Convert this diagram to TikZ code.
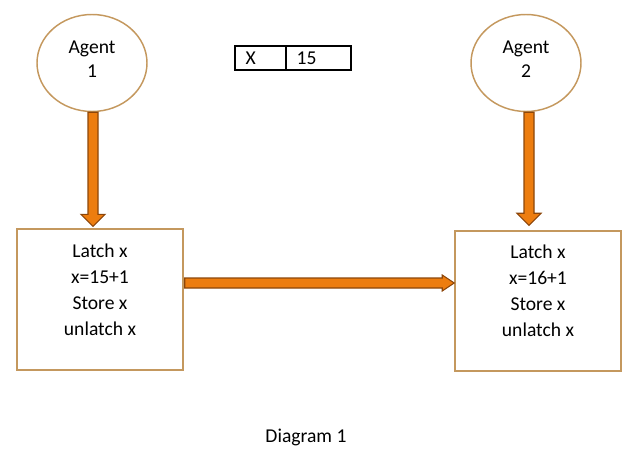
\documentclass[tikz,border=0pt]{standalone}
\usepackage{fontspec}
\setmainfont{Carlito}
\usetikzlibrary{shapes.geometric,calc}
\definecolor{tanline}{RGB}{196,152,94}
\definecolor{arrfill}{RGB}{237,125,15}
\definecolor{arrline}{RGB}{140,70,10}
\tikzset{
  agent/.style={ellipse, draw=tanline, line width=1.1pt, minimum width=82.5pt, minimum height=72.75pt, inner sep=0pt},
  agenttext/.style={align=center, inner sep=0pt, font={\fontsize{14.7}{18}\selectfont}},
  procbox/.style={rectangle, draw=tanline, line width=1.1pt, minimum width=124.5pt, minimum height=105.5pt, inner sep=0pt},
  boxtext/.style={align=center, inner sep=0pt, font={\fontsize{14.7}{19.5}\selectfont}},
  cell/.style={rectangle, draw=black, line width=0.8pt, minimum height=18pt, inner sep=0pt},
  celltext/.style={anchor=west, inner sep=0pt, font={\fontsize{14.7}{17}\selectfont}},
  fat/.style={fill=arrfill, draw=arrline, line width=0.8pt, line join=miter},
  plain/.style={inner sep=0pt, font={\fontsize{14.7}{17}\selectfont}}
}
\begin{document}
\begin{tikzpicture}[x=0.75pt,y=-0.75pt]
\useasboundingbox (0,0) rectangle (638,452);
\node[agent] (ag1) at (92,63) {};
\node[agent] (ag2) at (526,63) {};
\node[agenttext] (at1) at ($(ag1.center)+(0,-3.5)$) {Agent\\1};
\node[agenttext] (at2) at ($(ag2.center)+(0,-3.5)$) {Agent\\2};
\node[cell, minimum width=38.25pt] (c1) at (260.5,58) {};
\node[cell, minimum width=48.75pt] (c2) at (318.5,58) {};
\node[celltext] (cx) at ($(c1.west)+(11,0)$) {X};
\node[celltext] (cv) at ($(c2.west)+(11,0)$) {15};
\node[procbox] (b1) at (100,299.5) {};
\node[procbox, minimum height=105pt] (b2) at (538,301) {};
\node[boxtext] (t1) at ($(b1.center)+(0,-10)$) {Latch x\\x=15+1\\Store x\\unlatch x};
\node[boxtext] (t2) at ($(b2.center)+(0,-10)$) {Latch x\\x=16+1\\Store x\\unlatch x};
\node[plain] (cap) at (306,437) {Diagram 1};
% vertical arrow 1
\coordinate (s1) at ($(ag1.south)+(1,0)$);
\coordinate (e1) at ($(s1 |- b1.north)+(0,-2)$);
\draw[fat] ($(s1)+(-5,0)$) -- ($(e1)+(-5,-12)$) -- ($(e1)+(-12,-12)$) -- (e1) -- ($(e1)+(12,-12)$) -- ($(e1)+(5,-12)$) -- ($(s1)+(5,0)$) -- cycle;
% vertical arrow 2
\coordinate (s2) at ($(ag2.south)+(3,0)$);
\coordinate (e2) at ($(s2 |- b2.north)+(0,-5)$);
\draw[fat] ($(s2)+(-5,0)$) -- ($(e2)+(-5,-12)$) -- ($(e2)+(-12,-12)$) -- (e2) -- ($(e2)+(12,-12)$) -- ($(e2)+(5,-12)$) -- ($(s2)+(5,0)$) -- cycle;
% horizontal arrow
\coordinate (s3) at ($(b1.east)+(1,-16.5)$);
\coordinate (e3) at (b2.west |- s3);
\draw[fat] ($(s3)+(0,-5)$) -- ($(e3)+(-12,-5)$) -- ($(e3)+(-12,-8)$) -- (e3) -- ($(e3)+(-12,8)$) -- ($(e3)+(-12,5)$) -- ($(s3)+(0,5)$) -- cycle;
\end{tikzpicture}
\end{document}
